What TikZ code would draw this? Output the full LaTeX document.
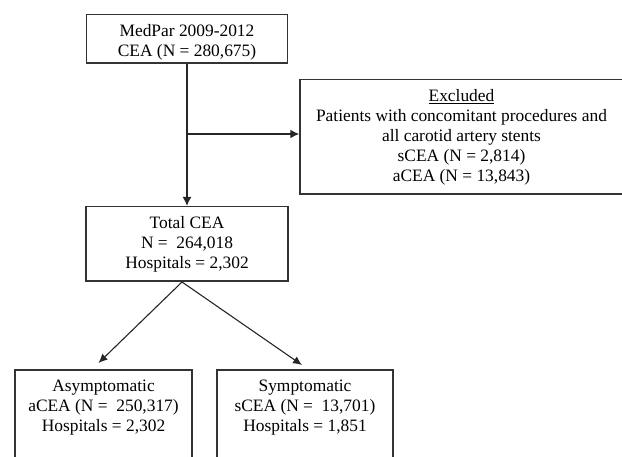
\documentclass[tikz,border=0pt]{standalone}
\usepackage{fontspec}
\setmainfont{Liberation Serif}
\usepackage{tikz}
\usetikzlibrary{arrows.meta}

\begin{document}
\begin{tikzpicture}[x=1pt,y=1pt,
    box/.style={draw=black!80,line width=1.5pt,align=center,inner sep=0pt,
        font=\fontsize{17.4}{20}\selectfont},
    arr/.style={-{Latex[length=9pt,width=9pt]},draw=black!85,line width=1.5pt},
    thinarr/.style={-{Latex[length=9pt,width=8pt]},draw=black!85,line width=1.1pt}]
    \useasboundingbox (0,0) rectangle (622,456);

    % Boxes (anchored at their top edge)
    \node[box,anchor=north,minimum width=201pt,text height=41.5pt,text depth=7pt] (medpar) at (187,442)
        {MedPar 2009-2012\\CEA (N = 280,675)};
    \node[box,anchor=north,minimum width=323pt,text height=101.5pt,text depth=13pt] (excl) at (461.5,377)
        {\underline{Excluded}\\Patients with concomitant procedures and\\all carotid artery stents\\sCEA (N = 2,814)\\aCEA (N = 13,843)};
    \node[box,anchor=north,minimum width=202pt,text height=61.5pt,text depth=13pt] (total) at (187,250)
        {Total CEA\\N =\ \ 264,018\\Hospitals = 2,302};
    \node[box,anchor=north,minimum width=177pt,text height=61.5pt,text depth=80pt] (asym) at (103.5,87)
        {Asymptomatic\\aCEA (N =\ \ 250,317)\\Hospitals = 2,302};
    \node[box,anchor=north,minimum width=176pt,text height=61.5pt,text depth=80pt] (symp) at (305,87)
        {Symptomatic\\sCEA (N =\ \ 13,701)\\Hospitals = 1,851};

    % Arrows
    \draw[arr] (medpar.south) -- (total.north);
    \coordinate (junc) at (187,322);
    \draw[arr] (junc) -- (junc -| excl.west);
    \draw[thinarr] ([xshift=-5pt]total.south) -- ([xshift=-5pt,yshift=6pt]asym.north);
    \draw[thinarr] ([xshift=-5pt]total.south) -- ([xshift=-3pt,yshift=4pt]symp.north);
\end{tikzpicture}
\end{document}
